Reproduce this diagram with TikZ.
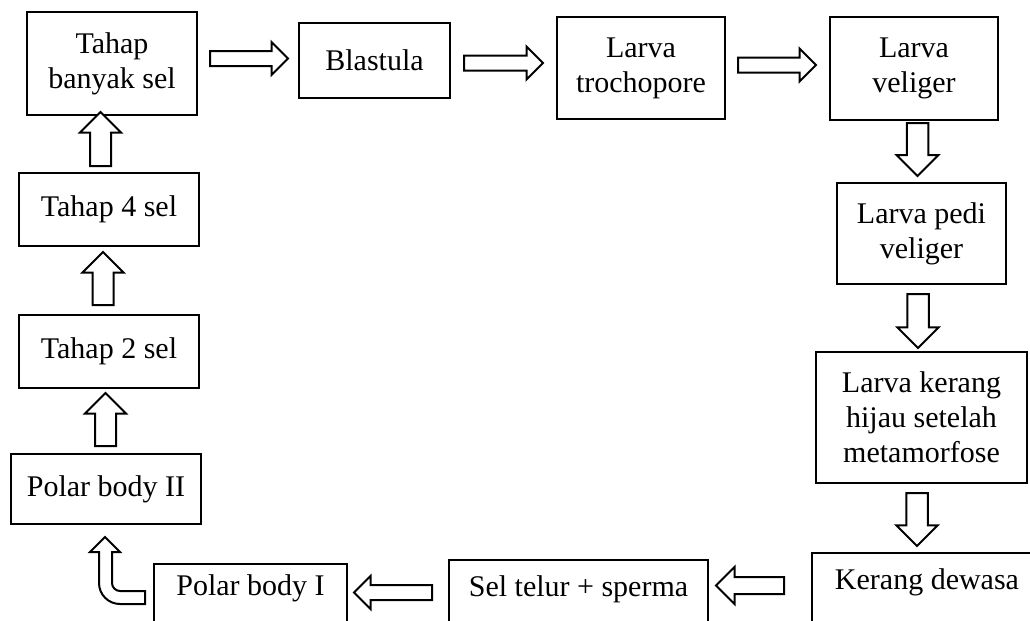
\documentclass[tikz,border=0pt]{standalone}
\usepackage{fontspec}
\setmainfont{Liberation Serif}
\usetikzlibrary{shapes.arrows}

\tikzset{
  kotak/.style={draw, line width=1pt, align=center, inner sep=0pt,
    font=\fontsize{15}{17.5}\selectfont},
  panah/.style={draw, line width=1pt, fill=white, single arrow, inner sep=0pt,
    text depth=0pt, single arrow tip angle=90, anchor=tail},
  panahdatar/.style={panah, minimum height=39pt, text height=6.5pt,
    single arrow head extend=4.5pt},
  panahtegak/.style={panah, minimum height=26.5pt, text height=9.75pt,
    single arrow head extend=5pt}
}

\begin{document}
\begin{tikzpicture}[x=0.5pt,y=-0.5pt]
\useasboundingbox (0,0) rectangle (1030,621);
\clip (0,0) rectangle (1030,621);

% Baris atas
\node[kotak, minimum width=85pt, minimum height=51.5pt] (banyak) at (112,63.5) {Tahap\\banyak sel};
\node[kotak, minimum width=75.5pt, minimum height=37.5pt] (blastula) at (374.5,60.5) {Blastula};
\node[kotak, minimum width=84pt, minimum height=51pt] (trocho) at (641,68) {Larva\\trochopore};
\node[kotak, minimum width=84pt, minimum height=51.5pt] (veliger) at (914,68.5) {Larva\\veliger};

% Kolom kanan
\node[kotak, minimum width=84.5pt, minimum height=50.5pt] (pedi) at (921.5,233.5) {Larva pedi\\veliger};
\node[kotak, minimum width=105.5pt, minimum height=65.5pt] (hijau) at (921.5,417.5) {Larva kerang\\hijau setelah\\metamorfose};

% Baris bawah
\node[kotak, anchor=north, minimum width=115pt, text height=18pt, text depth=40pt] (dewasa) at (927,552) {Kerang dewasa};
\node[kotak, anchor=north, minimum width=129.5pt, text height=18pt, text depth=40pt] (telur) at (578.5,559) {Sel telur + sperma};
\node[kotak, anchor=north, minimum width=96.5pt, text height=15.5pt, text depth=40pt] (polarsatu) at (250.5,563) {Polar body I};

% Kolom kiri
\node[kotak, minimum width=95pt, minimum height=35pt] (polardua) at (106,489) {Polar body II};
\node[kotak, minimum width=90pt, minimum height=36.5pt] (duasel) at (109,351.5) {Tahap 2 sel};
\node[kotak, minimum width=90pt, minimum height=36.5pt] (empatsel) at (109,209.5) {Tahap 4 sel};

% Panah atas
\node[panahdatar] (p1) at (209,58.5) {};
\node[panahdatar, minimum height=39.5pt] (p2) at (463,63) {};
\node[panahdatar] (p3) at (737,65) {};

% Panah kanan (ke bawah)
\node[panahtegak, rotate=-90] (p4) at (917.5,122) {};
\node[panahtegak, rotate=-90, minimum height=27pt] (p5) at (918,293) {};
\node[panahtegak, rotate=-90] (p6) at (917,492) {};

% Panah bawah (ke kiri)
\node[panahdatar, rotate=180, minimum height=34pt, text height=7.5pt,
  single arrow head extend=5pt] (p7) at (785,585.5) {};
\node[panahdatar, rotate=180] (p8) at (433,592.5) {};

% Panah belok
\draw[line width=1pt, fill=white] (145,591) -- (145,604) -- (120,604)
  .. controls (108.4,604) and (99,594.6) .. (99,583)
  -- (99,552) -- (90,552) -- (105,537) -- (120,552) -- (112,552) -- (112,583)
  .. controls (112,587.4) and (115.6,591) .. (120,591) -- cycle;

% Panah kiri (ke atas)
\node[panahtegak, rotate=90, text height=9.5pt] (p9) at (105.5,447) {};
\node[panahtegak, rotate=90, text height=9.5pt] (p10) at (103,306) {};
\node[panahtegak, rotate=90, minimum height=27pt, text height=9.5pt] (p11) at (100.5,167) {};

\end{tikzpicture}
\end{document}
